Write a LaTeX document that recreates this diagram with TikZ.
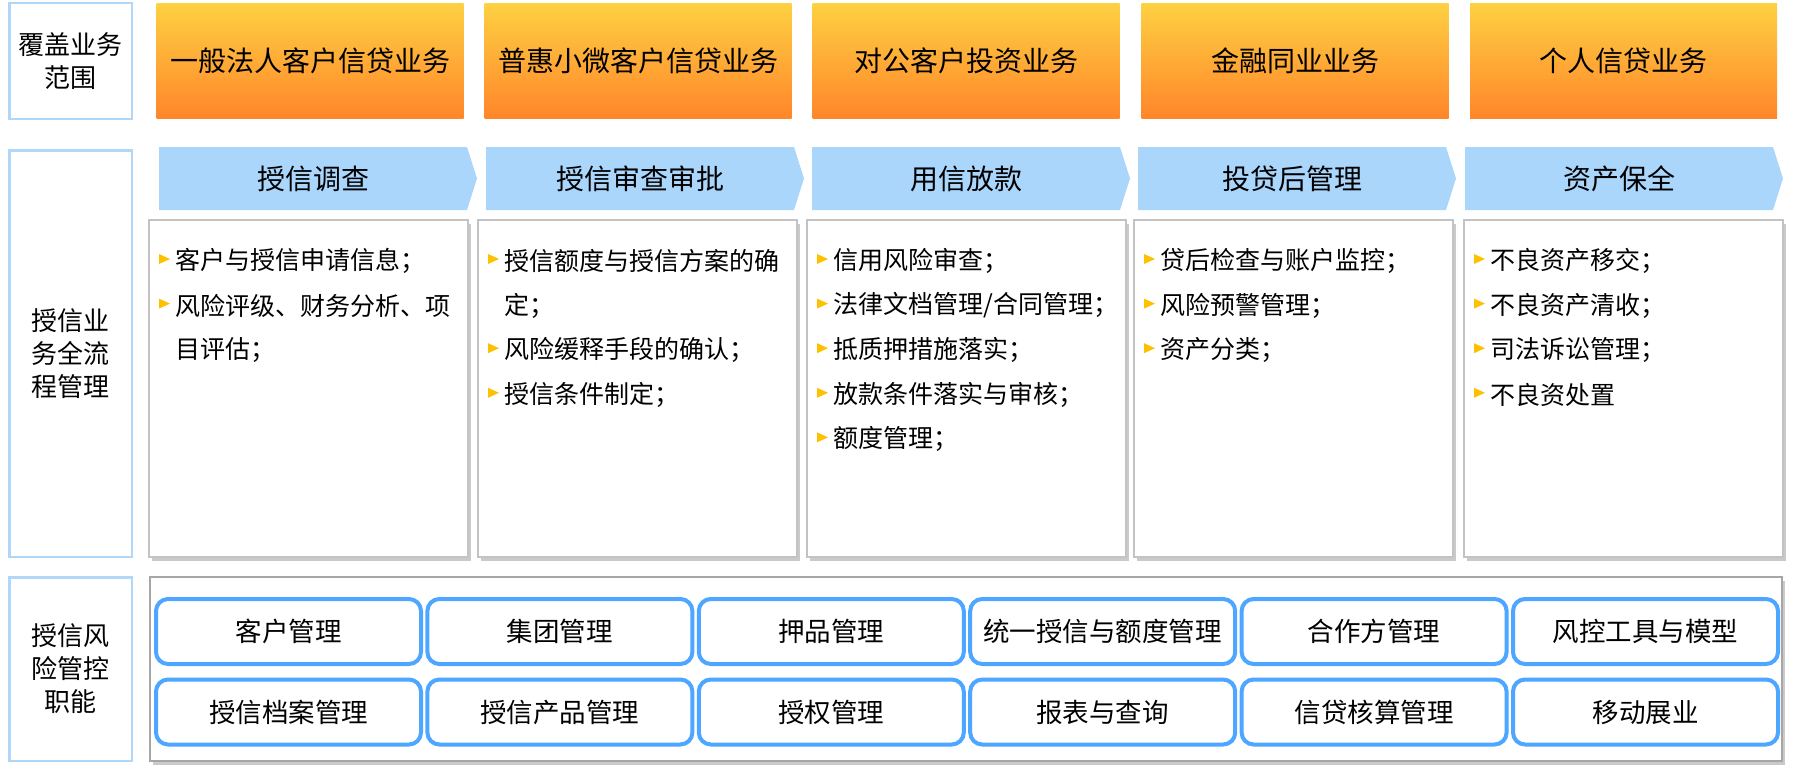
\documentclass[tikz,border=0pt]{standalone}
\usepackage{fontspec}
\setmainfont{Noto Sans CJK SC}
\usetikzlibrary{shadows}
\definecolor{orgtop}{RGB}{254,208,66}
\definecolor{orgbot}{RGB}{255,134,42}
\definecolor{stepblue}{RGB}{171,214,252}
\definecolor{labelblue}{RGB}{176,214,250}
\definecolor{roundblue}{RGB}{77,166,255}
\definecolor{bulletyellow}{RGB}{255,192,0}
\definecolor{boxgrey}{RGB}{195,195,195}
\definecolor{framegrey}{RGB}{166,166,166}
\tikzset{
  orangebox/.style={top color=orgtop,bottom color=orgbot,minimum width=307pt,minimum height=114pt,inner sep=0pt,font=\fontsize{28}{34}\selectfont},
  labelbox/.style={draw=labelblue,line width=2.5pt,fill=white,align=center,inner sep=0pt,minimum width=122.5pt,font=\fontsize{26}{33}\selectfont},
  steptext/.style={font=\fontsize{28}{34}\selectfont,inner sep=0pt},
  stepfill/.style={fill=stepblue},
  softshadow/.style={drop shadow={shadow xshift=2.5pt,shadow yshift=-3.5pt,opacity=0.28,fill=black!75}},
  contentbox/.style={draw=boxgrey,line width=1.2pt,fill=white,minimum width=319pt,minimum height=337pt,inner sep=0pt,softshadow},
  itemtext/.style={font=\fontsize{25}{30}\selectfont,inner sep=0pt,anchor=west},
  bulletmark/.style={fill=bulletyellow},
  funcbox/.style={draw=roundblue,line width=4pt,rounded corners=12pt,fill=white,minimum width=265pt,minimum height=65pt,inner sep=0pt,font=\fontsize{26.5}{32}\selectfont},
  framebox/.style={draw=framegrey,line width=1.8pt,fill=white,minimum width=1632pt,minimum height=184pt,inner sep=0pt,softshadow}
}
\newcommand{\bulletat}[2]{\path[bulletmark] (#1+10,#2-7) -- (#1+21,#2-2) -- (#1+10,#2+3) -- cycle;}
\begin{document}
\begin{tikzpicture}[x=1pt,y=-1pt]
\useasboundingbox (0,0) rectangle (1797,776);
% left labels
\node[labelbox,minimum height=115.5pt] (lab1) at (70.5,61) {覆盖业务\\范围};
\node[labelbox,minimum height=406.5pt] (lab2) at (70.5,353.5) {授信业\\务全流\\程管理};
\node[labelbox,minimum height=183.5pt] (lab3) at (70.5,669) {授信风\\险管控\\职能};
% orange business boxes
\foreach \cx/\txt [count=\i] in {310/一般法人客户信贷业务,638/普惠小微客户信贷业务,966/对公客户投资业务,1295/金融同业业务,1623.5/个人信贷业务}
  \node[orangebox] (biz\i) at (\cx,61) {\txt};
% process steps
\foreach \xs/\txt [count=\i] in {159/授信调查,486/授信审查审批,812/用信放款,1138/投贷后管理,1465/资产保全}{
  \path[stepfill] (\xs,147) -- (\xs+308,147) -- (\xs+318,178.5) -- (\xs+308,210) -- (\xs,210) -- cycle;
  \node[steptext] (step\i) at (\xs+154,178.5) {\txt};
}
% content boxes
\foreach \bx [count=\i] in {149,478,807,1134,1464}
  \node[contentbox] (box\i) at (\bx+159.5,388.5) {};
% column 1
\bulletat{149}{261}
\node[itemtext] (c1a) at (175,261) {客户与授信申请信息；};
\bulletat{149}{305.6}
\node[itemtext] (c1b) at (175,305.6) {风险评级、财务分析、项};
\node[itemtext] (c1c) at (175,350.2) {目评估；};
% column 2
\bulletat{478}{261}
\node[itemtext] (c2a) at (504,261) {授信额度与授信方案的确};
\node[itemtext] (c2b) at (504,305.6) {定；};
\bulletat{478}{350.2}
\node[itemtext] (c2c) at (504,350.2) {风险缓释手段的确认；};
\bulletat{478}{394.8}
\node[itemtext] (c2d) at (504,394.8) {授信条件制定；};
% column 3
\foreach \txt [count=\k from 0] in {信用风险审查；,法律文档管理/合同管理；,抵质押措施落实；,放款条件落实与审核；,额度管理；}{
  \bulletat{807}{261+44.6*\k}
  \node[itemtext] (c3\k) at (833,261+44.6*\k) {\txt};
}
% column 4
\foreach \txt [count=\k from 0] in {贷后检查与账户监控；,风险预警管理；,资产分类；}{
  \bulletat{1134}{261+44.6*\k}
  \node[itemtext] (c4\k) at (1160,261+44.6*\k) {\txt};
}
% column 5
\foreach \txt [count=\k from 0] in {不良资产移交；,不良资产清收；,司法诉讼管理；,不良资处置}{
  \bulletat{1464}{261+44.6*\k}
  \node[itemtext] (c5\k) at (1490,261+44.6*\k) {\txt};
}
% risk control frame
\node[framebox] (frame) at (966,669) {};
\foreach \txt [count=\j from 0] in {客户管理,集团管理,押品管理,统一授信与额度管理,合作方管理,风控工具与模型}
  \node[funcbox] (fa\j) at (288.5+271.4*\j,631.5) {\txt};
\foreach \txt [count=\j from 0] in {授信档案管理,授信产品管理,授权管理,报表与查询,信贷核算管理,移动展业}
  \node[funcbox] (fb\j) at (288.5+271.4*\j,712) {\txt};
\end{tikzpicture}
\end{document}
